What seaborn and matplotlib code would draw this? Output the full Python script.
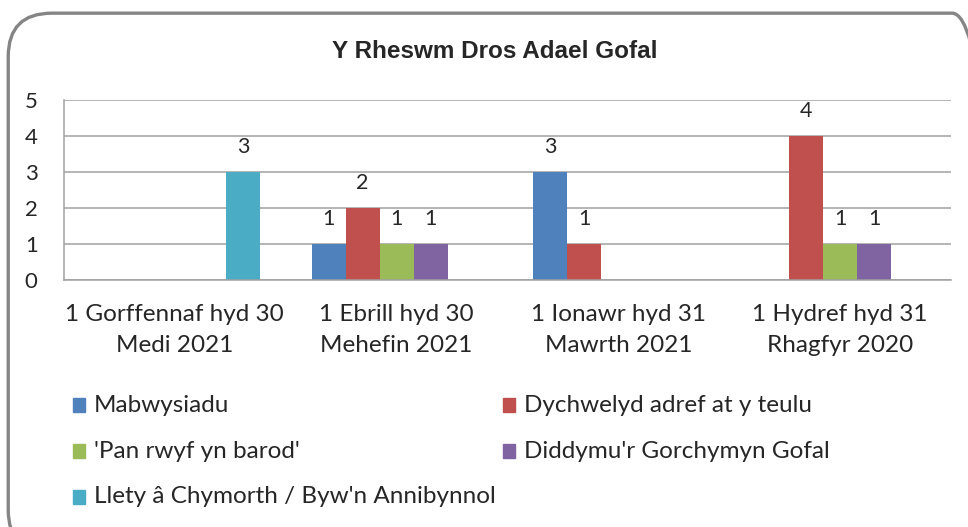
import pandas as pd
import matplotlib.pyplot as plt
import seaborn as sns
from matplotlib.patches import FancyBboxPatch, Rectangle

# Chart data
periods = ['1 Gorffennaf hyd 30\nMedi 2021', '1 Ebrill hyd 30\nMehefin 2021',
           '1 Ionawr hyd 31\nMawrth 2021', '1 Hydref hyd 31\nRhagfyr 2020']
reasons = ['Mabwysiadu', 'Dychwelyd adref at y teulu', "'Pan rwyf yn barod'",
           "Diddymu'r Gorchymyn Gofal", "Llety â Chymorth / Byw'n Annibynnol"]
mabwysiadu = [0, 1, 3, 0]
dychwelyd = [0, 2, 1, 4]
pan_rwyf = [0, 1, 0, 1]
diddymu = [0, 1, 0, 1]
llety = [3, 0, 0, 0]
colors = ['#4F81BD', '#C0504D', '#9BBB59', '#8064A2', '#4BACC6']

series = [mabwysiadu, dychwelyd, pan_rwyf, diddymu, llety]
rows = []
for reason, vals in zip(reasons, series):
    for period, v in zip(periods, vals):
        rows.append({'period': period, 'reason': reason, 'value': v})
df = pd.DataFrame(rows)

sns.set_style('white')
plt.rcParams['font.family'] = ['Lato', 'DejaVu Sans']

fig = plt.figure(figsize=(9.68, 5.27), dpi=100)
ax = fig.add_axes([0.0661, 0.4687, 0.9163, 0.3416])

sns.barplot(data=df, x='period', y='value', hue='reason', order=periods,
            hue_order=reasons, palette=colors, saturation=1, width=0.767,
            linewidth=0, edgecolor='none', legend=False, ax=ax)

# Data labels for non-zero bars
for container in ax.containers:
    labels = [f'{int(b.get_height())}' if b.get_height() > 0 else '' for b in container]
    ax.bar_label(container, labels=labels, padding=11, fontsize=15.5)

ax.set_ylim(0, 5)
ax.set_xlim(-0.5, 3.5)
ax.set_yticks(range(6))
ax.yaxis.grid(True, color='#a0a0a0', linewidth=1.1)
ax.set_axisbelow(True)
ax.set_xlabel('')
ax.set_ylabel('')
ax.tick_params(axis='both', length=0, labelsize=16)
ax.tick_params(axis='x', labelsize=17.5, pad=17)
ax.tick_params(axis='y', pad=19)
for lbl in ax.get_xticklabels():
    lbl.set_linespacing(1.6)
for side in ['top', 'right']:
    ax.spines[side].set_visible(False)
for side in ['left', 'bottom']:
    ax.spines[side].set_color('#a0a0a0')
    ax.spines[side].set_linewidth(1.1)

fig.text(0.511, 0.903, 'Y Rheswm Dros Adael Gofal', ha='center', va='center',
         fontsize=17.5, fontweight='bold', family='Liberation Sans')

# Legend laid out row by row in two columns
col_x = [0.0754, 0.5196]
row_y = [0.231, 0.144, 0.057]
for i, (reason, color) in enumerate(zip(reasons, colors)):
    x = col_x[i % 2]
    y = row_y[i // 2]
    fig.add_artist(Rectangle((x, y - 0.013), 0.0124, 0.0266, color=color,
                             transform=fig.transFigure))
    fig.text(x + 0.0215, y, reason, ha='left', va='center', fontsize=17.5)

# Rounded chart border
fig.add_artist(FancyBboxPatch((0.0085, -0.05), 1.02, 1.025,
                              boxstyle='round,pad=0,rounding_size=0.045',
                              transform=fig.transFigure, fill=False,
                              edgecolor='#858585', linewidth=2.4,
                              mutation_aspect=968 / 527))

fig.savefig('out.png', dpi=100)
